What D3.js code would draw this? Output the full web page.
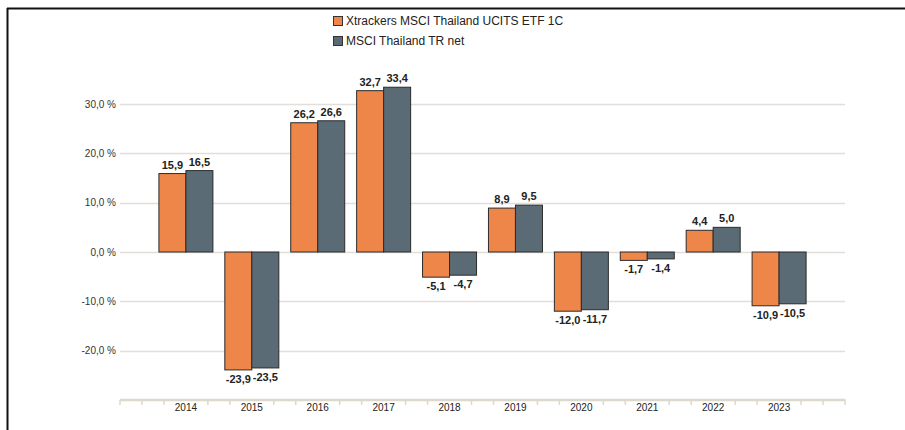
<!DOCTYPE html>
<html><head><meta charset="utf-8">
<script src="https://cdn.jsdelivr.net/npm/d3@7"></script>
<style>body{margin:0;background:#fff;} svg{display:block;font-family:"Liberation Sans",Arial,sans-serif;}</style>
</head><body><svg id="c" width="905" height="430"></svg>
<script>
const categories = ["2014","2015","2016","2017","2018","2019","2020","2021","2022","2023"];
const seriesNames = ["Xtrackers MSCI Thailand UCITS ETF 1C","MSCI Thailand TR net"];
const etfValues = [15.9,-23.9,26.2,32.7,-5.1,8.9,-12.0,-1.7,4.4,-10.9];
const indexValues = [16.5,-23.5,26.6,33.4,-4.7,9.5,-11.7,-1.4,5.0,-10.5];
const yTicks = [-20,-10,0,10,20,30];
const colors = ["#ee8649","#5b6b76"];

const svg = d3.select("#c");
const fmt = v => v.toFixed(1).replace(".", ",");

// frame
svg.append("line").attr("x1",7).attr("x2",905).attr("y1",8.5).attr("y2",8.5).attr("stroke","#111").attr("stroke-width",2);
svg.append("line").attr("x1",7.5).attr("x2",7.5).attr("y1",8).attr("y2",430).attr("stroke","#111").attr("stroke-width",2);

const x = d3.scaleBand().domain(categories).range([120,845]).paddingInner(0).paddingOuter(0.5);
const y = d3.scaleLinear().domain([-30,30]).range([400,104]);

// gridlines
svg.append("g").selectAll("line").data(yTicks).join("line")
  .attr("x1",120).attr("x2",845).attr("y1",d=>Math.round(y(d))+0.5).attr("y2",d=>Math.round(y(d))+0.5)
  .attr("stroke","#e2dfda").attr("stroke-width",1.5);
svg.append("g").selectAll("text").data(yTicks).join("text")
  .attr("x",116).attr("y",d=>y(d)+3.5).attr("text-anchor","end")
  .attr("font-size",10).attr("fill","#333").text(d=>fmt(d)+" %");

// x axis
const step = x.step();
svg.append("line").attr("x1",120).attr("x2",845.5).attr("y1",400).attr("y2",400).attr("stroke","#dcd8cc").attr("stroke-width",2.5);
const tk = d3.range(0,34).filter(k=>k%3!==0 || k===0 || k===33);
svg.append("g").selectAll("line").data(tk).join("line")
  .attr("x1",k=>120+k*step/3).attr("x2",k=>120+k*step/3).attr("y1",400).attr("y2",405)
  .attr("stroke","#dcd8cc").attr("stroke-width",1.5);
svg.append("g").selectAll("text").data(categories).join("text")
  .attr("x",d=>x(d)+x.bandwidth()/2).attr("y",411).attr("text-anchor","middle")
  .attr("font-size",10).attr("fill","#222").text(d=>d);

// bars
const bw = 27;
const series = [etfValues, indexValues];
series.forEach((vals,si)=>{
  const g = svg.append("g");
  g.selectAll("rect").data(vals).join("rect")
    .attr("x",(d,i)=>x(categories[i])+x.bandwidth()/2 - bw + si*bw)
    .attr("y",d=>Math.min(y(d),y(0)))
    .attr("width",bw)
    .attr("height",d=>Math.abs(y(d)-y(0)))
    .attr("fill",colors[si]).attr("stroke","#2b2b2b").attr("stroke-width",1);
  g.selectAll("text").data(vals).join("text")
    .attr("x",(d,i)=>x(categories[i])+x.bandwidth()/2 - bw/2 + si*bw)
    .attr("y",d=> d>=0 ? y(d)-5 : y(d)+13)
    .attr("text-anchor","middle").attr("font-size",11).attr("font-weight","bold").attr("fill","#222")
    .text(d=>fmt(d));
});

// legend
const lg = svg.append("g");
seriesNames.forEach((n,i)=>{
  lg.append("rect").attr("x",333.5).attr("y",16.5+i*20).attr("width",9).attr("height",9)
    .attr("fill",colors[i]).attr("stroke","#333").attr("stroke-width",1);
  lg.append("text").attr("x",346).attr("y",25+i*20).attr("font-size",12).attr("fill","#222").text(n);
});
</script></body></html>
